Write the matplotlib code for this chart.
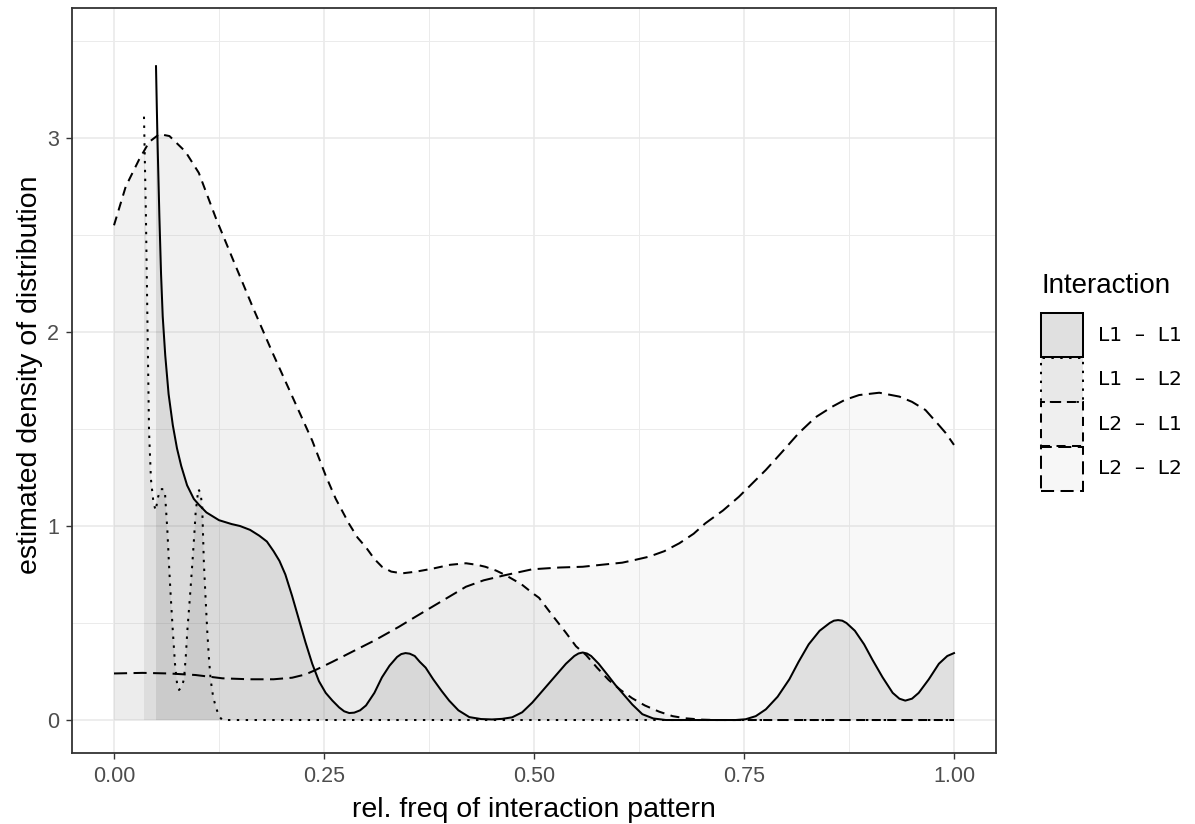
import matplotlib
matplotlib.use("Agg")
import matplotlib.pyplot as plt
from matplotlib.colors import to_rgba
from matplotlib.patches import Rectangle

plt.rcParams["font.family"] = ["Liberation Sans", "DejaVu Sans"]

W, H = 1195, 824

# values
groups = ["L1 – L1", "L1 – L2", "L2 – L1", "L2 – L2"]

l1l1_x = [0.050, 0.051, 0.052, 0.054, 0.056, 0.058, 0.061, 0.065, 0.070, 0.075,
          0.080, 0.087, 0.095, 0.101, 0.110, 0.125, 0.140, 0.150, 0.162, 0.173,
          0.182, 0.190, 0.197, 0.204, 0.212, 0.220, 0.228, 0.236, 0.244, 0.252,
          0.260, 0.268, 0.274, 0.280, 0.286, 0.293, 0.300, 0.310, 0.319, 0.328,
          0.337, 0.342, 0.347, 0.352, 0.358, 0.364, 0.371, 0.380, 0.390, 0.399,
          0.410, 0.423, 0.437, 0.450, 0.462, 0.474, 0.486, 0.498, 0.510, 0.520,
          0.530, 0.538, 0.548, 0.553, 0.558, 0.563, 0.568, 0.577, 0.588, 0.597,
          0.605, 0.617, 0.629, 0.642, 0.657, 0.700, 0.740, 0.752, 0.764, 0.776,
          0.790, 0.804, 0.815, 0.827, 0.840, 0.852, 0.857, 0.862, 0.867, 0.872,
          0.882, 0.893, 0.903, 0.915, 0.927, 0.935, 0.942, 0.950, 0.958, 0.970,
          0.982, 0.992, 1.000]
l1l1_y = [3.37, 3.15, 2.95, 2.60, 2.30, 2.08, 1.88, 1.68, 1.52, 1.40,
          1.31, 1.21, 1.14, 1.11, 1.07, 1.03, 1.01, 1.00, 0.98, 0.95,
          0.92, 0.87, 0.82, 0.75, 0.64, 0.52, 0.40, 0.29, 0.20, 0.14,
          0.10, 0.065, 0.045, 0.036, 0.038, 0.050, 0.075, 0.14, 0.22, 0.28,
          0.325, 0.340, 0.345, 0.342, 0.33, 0.30, 0.27, 0.21, 0.15, 0.10,
          0.05, 0.015, 0.005, 0.003, 0.006, 0.014, 0.04, 0.09, 0.15, 0.20,
          0.25, 0.29, 0.33, 0.343, 0.348, 0.343, 0.33, 0.29, 0.23, 0.18,
          0.14, 0.08, 0.03, 0.008, 0.0, 0.0, 0.0, 0.004, 0.02, 0.055,
          0.12, 0.21, 0.30, 0.39, 0.46, 0.50, 0.512, 0.515, 0.512, 0.50,
          0.46, 0.39, 0.31, 0.22, 0.14, 0.11, 0.10, 0.11, 0.14, 0.21,
          0.29, 0.33, 0.345]

l1l2_x = [0.0357, 0.0380, 0.0400, 0.0417, 0.0440, 0.0470, 0.0496, 0.0525, 0.0556, 0.0590,
          0.0607, 0.0635, 0.0655, 0.0675, 0.0700, 0.0726, 0.0750, 0.0774, 0.0805, 0.0833,
          0.0855, 0.0873, 0.0905, 0.0933, 0.0955, 0.0972, 0.1004, 0.1030, 0.1050, 0.1070,
          0.1090, 0.1110, 0.1130, 0.1150, 0.1180, 0.1210, 0.1250, 0.1290, 1.000]
l1l2_y = [3.11, 2.60, 2.00, 1.49, 1.24, 1.12, 1.08, 1.15, 1.19, 1.19,
          1.17, 0.98, 0.80, 0.64, 0.46, 0.29, 0.19, 0.155, 0.17, 0.21,
          0.33, 0.46, 0.64, 0.81, 0.95, 1.07, 1.19, 1.17, 1.10, 0.81,
          0.63, 0.46, 0.32, 0.21, 0.12, 0.07, 0.02, 0.0, 0.0]

l2l1_x = [0.000, 0.014, 0.030, 0.042, 0.054, 0.066, 0.085, 0.101, 0.121, 0.141,
          0.165, 0.188, 0.212, 0.236, 0.252, 0.264, 0.280, 0.290, 0.300, 0.310,
          0.319, 0.330, 0.343, 0.360, 0.379, 0.400, 0.419, 0.432, 0.442, 0.455,
          0.466, 0.485, 0.498, 0.506, 0.520, 0.538, 0.550, 0.562, 0.575, 0.589,
          0.603, 0.617, 0.632, 0.649, 0.665, 0.680, 0.700, 0.716, 1.000]
l2l1_y = [2.55, 2.75, 2.89, 2.98, 3.02, 3.01, 2.93, 2.82, 2.59, 2.38,
          2.13, 1.90, 1.67, 1.44, 1.26, 1.14, 1.01, 0.94, 0.89, 0.83,
          0.79, 0.765, 0.756, 0.765, 0.78, 0.80, 0.808, 0.80, 0.79, 0.77,
          0.747, 0.70, 0.655, 0.63, 0.55, 0.45, 0.38, 0.335, 0.27, 0.206,
          0.155, 0.112, 0.075, 0.043, 0.02, 0.009, 0.002, 0.0, 0.0]

l2l2_x = [0.000, 0.034, 0.065, 0.097, 0.129, 0.161, 0.190, 0.212, 0.228, 0.240,
          0.260, 0.280, 0.311, 0.339, 0.360, 0.379, 0.400, 0.419, 0.440, 0.466,
          0.498, 0.530, 0.558, 0.580, 0.605, 0.620, 0.637, 0.655, 0.673, 0.690,
          0.704, 0.725, 0.744, 0.760, 0.776, 0.795, 0.815, 0.835, 0.855, 0.870,
          0.887, 0.911, 0.935, 0.950, 0.966, 0.980, 0.990, 1.000]
l2l2_y = [0.24, 0.243, 0.24, 0.232, 0.215, 0.21, 0.21, 0.218, 0.235, 0.258,
          0.30, 0.344, 0.412, 0.48, 0.535, 0.584, 0.638, 0.687, 0.72, 0.747,
          0.777, 0.786, 0.79, 0.80, 0.811, 0.825, 0.842, 0.87, 0.911, 0.96,
          1.014, 1.08, 1.151, 1.22, 1.289, 1.38, 1.478, 1.56, 1.615, 1.65,
          1.675, 1.687, 1.667, 1.64, 1.598, 1.53, 1.48, 1.418]

x_ticks = [0.0, 0.25, 0.5, 0.75, 1.0]
x_ticklabels = ["0.00", "0.25", "0.50", "0.75", "1.00"]
y_ticks = [0, 1, 2, 3]

series = [(l1l1_x, l1l1_y), (l1l2_x, l1l2_y), (l2l1_x, l2l1_y), (l2l2_x, l2l2_y)]
fills = ["#333333", "#666666", "#999999", "#cccccc"]
styles = ["-", (0, (1.2, 3.2)), (0, (4.5, 3.2)), (0, (6.5, 3.2))]
ALPHA = 0.13
LW = 1.45

fig = plt.figure(figsize=(W / 100, H / 100), dpi=100)
ax = fig.add_axes([72 / W, 1 - 753 / H, (996 - 72) / W, (753 - 8) / H])

for (xs, ys), fc, ls in zip(series, fills, styles):
    ax.fill_between(xs, 0, ys, facecolor=fc, alpha=ALPHA, linewidth=0)
    ax.plot(xs, ys, color="black", linestyle=ls, linewidth=LW)

ax.set_xlim(-0.05, 1.05)
ax.set_ylim(-0.170, 3.670)
ax.set_xticks(x_ticks)
ax.set_xticklabels(x_ticklabels)
ax.set_yticks(y_ticks)
ax.set_xticks([0.125, 0.375, 0.625, 0.875], minor=True)
ax.set_yticks([0.5, 1.5, 2.5, 3.5], minor=True)
ax.grid(which="major", color="#e8e8e8", linewidth=1.1)
ax.grid(which="minor", color="#ebebeb", linewidth=0.7)
ax.set_axisbelow(True)
ax.tick_params(which="major", length=4.3, width=1.0, color="#333333",
               labelcolor="#4d4d4d", labelsize=15.5, pad=5)
ax.tick_params(which="minor", length=0)
for sp in ax.spines.values():
    sp.set_color("#333333")
    sp.set_linewidth(1.3)

fig.text(534 / W, 1 - 817 / H, "rel. freq of interaction pattern", ha="center",
         va="baseline", fontsize=20.5)
fig.text(30 / W, 1 - 375 / H, "estimated density of distribution", ha="center",
         va="center", rotation=90, fontsize=20.5)

# legend, drawn by hand so the keys touch like the ggplot ones
fig.text(1041 / W, 1 - 286 / H, "Interaction", ha="left", va="center", fontsize=20)
key_w, key_h, top = 42, 44.5, 313
for i, (g, fc, ls) in enumerate(zip(groups, fills, styles)):
    y0 = top + i * key_h
    fig.add_artist(Rectangle((1041 / W, 1 - (y0 + key_h) / H), key_w / W, key_h / H,
                             transform=fig.transFigure, facecolor=to_rgba(fc, ALPHA + 0.02),
                             edgecolor="black", linestyle=ls, linewidth=LW))
    fig.text(1098 / W, 1 - (y0 + key_h / 2) / H, g.replace(" – ", "  –  "),
             ha="left", va="center", fontsize=14.5, family="DejaVu Sans")

fig.savefig("out.png", dpi=100)
